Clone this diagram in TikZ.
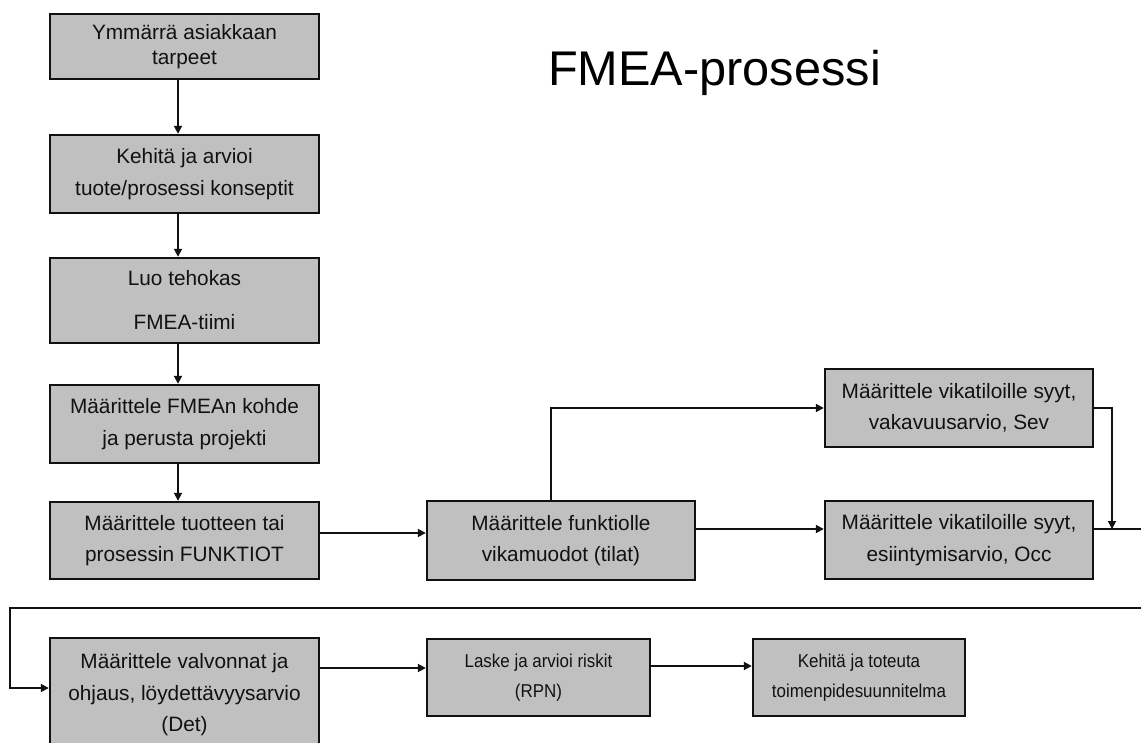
\documentclass[tikz,border=0pt]{standalone}
\usepackage{fontspec}
\setmainfont{Liberation Sans}
\newfontfamily\narrowsans[FakeStretch=0.91]{Liberation Sans}
\usetikzlibrary{arrows.meta}
\definecolor{boxgray}{HTML}{C0C0C0}
\definecolor{ink}{HTML}{111111}

\begin{document}
\begin{tikzpicture}[x=1pt,y=-1pt,
  stepbox/.style={draw=ink, fill=boxgray, line width=2.4pt, inner sep=0pt,
    align=center, text=ink, font=\fontsize{20.8}{31.5}\selectfont,
    minimum width=269pt},
  narrowbox/.style={stepbox, font=\narrowsans\fontsize{18.6}{30.5}\selectfont},
  link/.style={draw=ink, line width=1.8pt},
  arr/.style={link, -{Triangle[length=8pt,width=8pt]}},
]
\clip (0,0) rectangle (1141,743);

% title
\node[anchor=base, font=\fontsize{48.7}{58}\selectfont, text=black] (title) at (714.5,86) {FMEA-prosessi};

% left column
\node[stepbox, minimum height=65pt, font=\fontsize{20.8}{25}\selectfont] (b1) at (184.5,46.5) {Ymmärrä asiakkaan\\tarpeet};
\node[stepbox, minimum height=78pt] (b2) at (184.5,174) {Kehitä ja arvioi\\tuote/prosessi konseptit};
\node[stepbox, minimum height=85pt] (b3) at (184.5,300.5) {Luo tehokas\\[12.5pt]FMEA-tiimi};
\node[stepbox, minimum height=78pt] (b4) at (184.5,424) {Määrittele FMEAn kohde\\ja perusta projekti};
\node[stepbox, minimum height=77pt] (b5) at (184.5,540.5) {Määrittele tuotteen tai\\prosessin FUNKTIOT};

% failure modes and causes
\node[stepbox, minimum width=268pt, minimum height=79pt] (b6) at (561,540.5) {Määrittele funktiolle\\vikamuodot (tilat)};
\node[stepbox, minimum width=268pt, minimum height=78pt] (b7) at (959,408) {Määrittele vikatiloille syyt,\\vakavuusarvio, Sev};
\node[stepbox, minimum width=268pt, minimum height=78pt] (b8) at (959,540) {Määrittele vikatiloille syyt,\\esiintymisarvio, Occ};

% bottom row
\node[stepbox, minimum height=114pt] (b9) at (184.5,695) {Määrittele valvonnat ja\\ohjaus, löydettävyysarvio\\(Det)};
\node[narrowbox, minimum width=223pt, minimum height=77pt] (b10) at (538.5,677.5) {Laske ja arvioi riskit\\(RPN)};
\node[narrowbox, minimum width=212pt, minimum height=77pt] (b11) at (859,677.5) {Kehitä ja toteuta\\toimenpidesuunnitelma};

% guide coordinates for connector routes
\coordinate (vx) at (178,0);
\coordinate (upx) at (551,0);
\coordinate (r1) at (0,533);
\coordinate (r2) at (0,529);
\coordinate (j1) at (1112,529);
\coordinate (eR) at (1141,529);
\coordinate (eR2) at (1141,608);
\coordinate (lx) at (10,608);
\coordinate (r3) at (0,688);
\coordinate (r4) at (0,668);
\coordinate (r5) at (0,666);

% connectors
\draw[arr] (b1.south -| vx) -- (b2.north -| vx);
\draw[arr] (b2.south -| vx) -- (b3.north -| vx);
\draw[arr] (b3.south -| vx) -- (b4.north -| vx);
\draw[arr] (b4.south -| vx) -- (b5.north -| vx);
\draw[arr] (b5.east |- r1) -- (b6.west |- r1);
\draw[arr] (b6.north -| upx) |- (b7.west);
\draw[arr] (b6.east |- r2) -- (b8.west |- r2);
\draw[arr] (b7.east) -| (j1);
\draw[link] (b8.east |- r2) -- (eR);
\draw[arr] (eR2) -- (lx) |- (b9.west |- r3);
\draw[arr] (b9.east |- r4) -- (b10.west |- r4);
\draw[arr] (b10.east |- r5) -- (b11.west |- r5);
\end{tikzpicture}
\end{document}
